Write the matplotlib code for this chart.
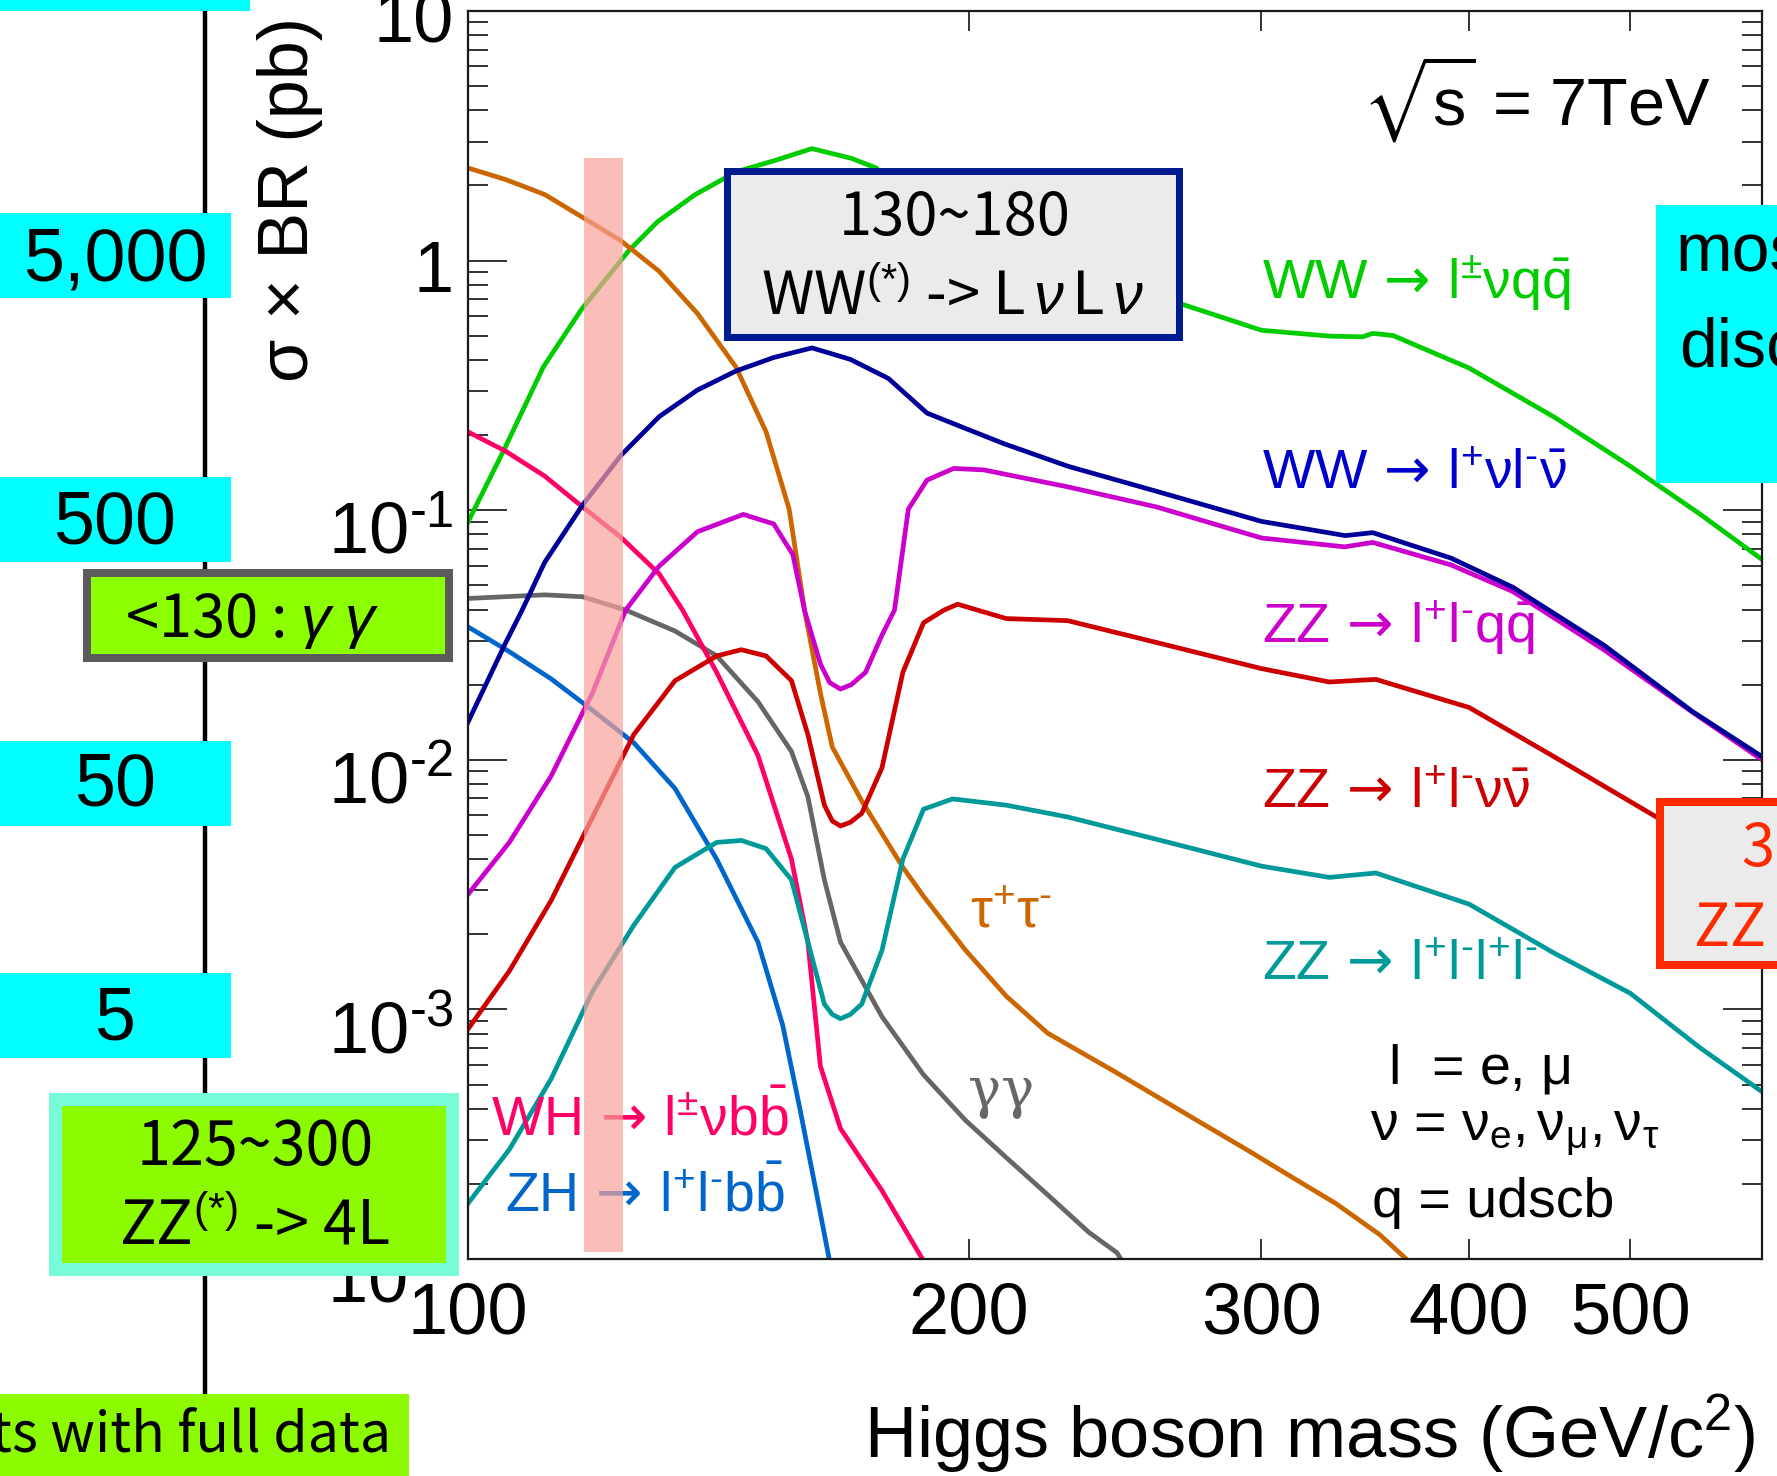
"""Higgs sigma x BR versus mass at sqrt(s) = 7 TeV, with search-channel call-outs."""

import matplotlib

matplotlib.use("Agg")
import matplotlib.pyplot as plt
from matplotlib import transforms
from matplotlib.lines import Line2D
from matplotlib.patches import Rectangle
from matplotlib.ticker import FixedLocator, LogLocator, NullFormatter, NullLocator

W, H = 1777, 1476  # output size in pixels at dpi 100

# Higgs mass (GeV/c^2) and sigma x BR (pb)
WW_QQ_MASS = [100, 105, 111, 117, 125, 130, 137, 145, 153, 161, 170, 176, 180, 190, 200, 210, 230, 250,
              268, 300, 330, 345, 350, 360, 400, 450, 500, 550, 600]
WW_QQ_XS = [0.0897, 0.172, 0.375, 0.637, 1.10, 1.43, 1.84, 2.27, 2.52, 2.81, 2.57, 2.35, 2.0, 1.51, 1.29,
            1.12, 0.891, 0.759, 0.673, 0.526, 0.498, 0.495, 0.511, 0.501, 0.371, 0.236, 0.150, 0.0970, 0.0635]

WW_LL_MASS = [100, 105.3, 107.7, 111.2, 117.2, 123.6, 130.3, 137.4, 144.9, 152.7, 161, 169.8, 179, 188.8,
              199, 209.9, 229.5, 259.5, 300, 337, 350, 390, 425, 482, 545, 600]
WW_LL_XS = [0.01416, 0.02924, 0.03936, 0.0618, 0.105, 0.166, 0.237, 0.303, 0.361, 0.409, 0.447, 0.402,
            0.337, 0.245, 0.213, 0.185, 0.150, 0.119, 0.0902, 0.0791, 0.0813, 0.0643, 0.0491, 0.0288,
            0.0156, 0.0103]

ZZ_QQ_MASS = [100, 105.9, 112.2, 118.8, 124.4, 130.3, 137.4, 146.4, 152.7, 156.8, 159.4, 162.9, 165,
              167.5, 170, 173.4, 177.4, 180.5, 184, 188.8, 195.9, 204.3, 215.4, 229.5, 259.5, 300, 336.6,
              350, 390, 425, 482, 545, 600]
ZZ_QQ_XS = [0.00289, 0.00467, 0.00861, 0.0185, 0.0398, 0.0597, 0.0820, 0.0962, 0.0881, 0.0664, 0.0394,
            0.0242, 0.0204, 0.0192, 0.0200, 0.0224, 0.0316, 0.0398, 0.101, 0.132, 0.147, 0.145, 0.135,
            0.124, 0.103, 0.0774, 0.0713, 0.0743, 0.0604, 0.0472, 0.0276, 0.0155, 0.0100]

ZZ_NUNU_MASS = [100, 105.9, 112.2, 118.8, 125.8, 133.2, 141.1, 146, 151.1, 156.5, 160.1, 163.8, 165.6,
                167.5, 169.8, 172.5, 177.4, 182.6, 187.9, 193.3, 197, 210.7, 229.4, 259.5, 300, 329.6,
                351.5, 400, 450, 526.5, 600]
ZZ_NUNU_XS = [0.000834, 0.001426, 0.00273, 0.00587, 0.01262, 0.02075, 0.02606, 0.02761, 0.02606, 0.02075,
              0.01262, 0.00658, 0.00569, 0.00543, 0.00562, 0.00610, 0.00929, 0.0224, 0.0354, 0.0398,
              0.0420, 0.0368, 0.0361, 0.0295, 0.0232, 0.0205, 0.0210, 0.0162, 0.01028, 0.00555, 0.00316]

ZZ_4L_MASS = [100, 105.9, 112.2, 118.8, 125.8, 133.2, 141.1, 146, 151.1, 156.5, 160.1, 163.8, 165.6,
              167.5, 169.8, 172.5, 177.4, 182.6, 187.9, 195.6, 210.7, 229.4, 259.5, 300, 329.6, 351.5,
              400, 450, 500, 550, 600]
ZZ_4L_XS = [0.000167, 0.000275, 0.000527, 0.001178, 0.002173, 0.003707, 0.004667, 0.004753, 0.004406,
            0.003304, 0.001862, 0.001050, 0.000955, 0.000918, 0.000955, 0.001050, 0.001726, 0.0040,
            0.00634, 0.00697, 0.00658, 0.00590, 0.00480, 0.00375, 0.00338, 0.00352, 0.00264, 0.00168,
            0.00116, 0.000706, 0.000468]

TAUTAU_MASS = [100, 105.4, 111.2, 117.2, 123.6, 130.3, 137.4, 144.9, 151.1, 156, 159.4, 162.9, 165.6,
               172.5, 182.6, 187.9, 199.1, 210.7, 223.1, 245, 276, 294, 312.5, 332.5, 353.5, 368]
TAUTAU_XS = [2.35, 2.11, 1.84, 1.49, 1.20, 0.906, 0.614, 0.375, 0.206, 0.101, 0.0394, 0.0185, 0.01125,
             0.00684, 0.00371, 0.00284, 0.00173, 0.00113, 0.000804, 0.000562, 0.000351, 0.000274,
             0.000214, 0.000167, 0.000125, 0.0000977]

GAMGAM_MASS = [100, 111.2, 117.2, 124.4, 133.2, 141.1, 149.4, 156.5, 160.1, 163.8, 167.5, 177.4, 187.9,
               199.1, 210.7, 223.1, 236.2, 245.6, 248]
GAMGAM_XS = [0.0443, 0.0458, 0.0450, 0.0398, 0.0328, 0.0261, 0.0171, 0.0108, 0.00711, 0.00330, 0.00186,
             0.000935, 0.000547, 0.000360, 0.000255, 0.000181, 0.000128, 0.000106, 0.0000955]

WH_MASS = [100, 105.4, 111.2, 117.2, 123.6, 130.3, 134.6, 141.1, 149.4, 156.5, 160.1, 162.9, 167.5, 177.4, 188]
WH_XS = [0.206, 0.172, 0.137, 0.103, 0.0778, 0.0556, 0.0398, 0.0224, 0.01042, 0.0040, 0.00186, 0.000592,
         0.000333, 0.000188, 0.0000977]

ZH_MASS = [100, 105.9, 112.2, 118.8, 125.8, 133.2, 141.1, 149.4, 154.6, 158.3, 161.9, 165]
ZH_XS = [0.0341, 0.0271, 0.0211, 0.0158, 0.0117, 0.00767, 0.0040, 0.00186, 0.000867, 0.000403, 0.000188,
         0.0000977]

BAND_MASS = (117.5, 124.0)
X_TICKS = [100, 200, 300, 400, 500]
Y_TICKS = [1e-4, 1e-3, 1e-2, 1e-1, 1, 10]
Y_TICK_TEXT = ["10$^{‐4}$", "10$^{‐3}$", "10$^{‐2}$", "10$^{‐1}$", "1", "10"]

COLORS = {
    "ww_qq": "#00cc00", "ww_ll": "#000099", "zz_qq": "#cc00cc", "zz_nunu": "#cc0000",
    "zz_4l": "#009999", "tautau": "#cc6600", "gamgam": "#666666", "wh": "#ff0066", "zh": "#0066cc",
}
CJK = ["Noto Sans CJK JP", "DejaVu Sans"]
ARROW = r"$\,\mathsf{\rightarrow}\,$"

plt.rcParams.update({
    "font.family": ["Liberation Sans", "DejaVu Sans"],
    "mathtext.fontset": "custom",
    "mathtext.rm": "Liberation Sans",
    "mathtext.it": "Liberation Sans:italic",
    "mathtext.bf": "Liberation Sans:bold",
    "mathtext.sf": "DejaVu Sans",
    "mathtext.fallback": "stixsans",
})


def fx(px):
    return px / W


def fy(py):
    return 1 - py / H


fig = plt.figure(figsize=(W / 100, H / 100), dpi=100, facecolor="white")
ax = fig.add_axes([fx(468), fy(1259), (1762 - 468) / W, (1259 - 11) / H])

curves = [
    (WW_QQ_MASS, WW_QQ_XS, COLORS["ww_qq"]),
    (TAUTAU_MASS, TAUTAU_XS, COLORS["tautau"]),
    (GAMGAM_MASS, GAMGAM_XS, COLORS["gamgam"]),
    (WH_MASS, WH_XS, COLORS["wh"]),
    (ZH_MASS, ZH_XS, COLORS["zh"]),
    (ZZ_4L_MASS, ZZ_4L_XS, COLORS["zz_4l"]),
    (ZZ_NUNU_MASS, ZZ_NUNU_XS, COLORS["zz_nunu"]),
    (ZZ_QQ_MASS, ZZ_QQ_XS, COLORS["zz_qq"]),
    (WW_LL_MASS, WW_LL_XS, COLORS["ww_ll"]),
]
for mass, xs, color in curves:
    ax.plot(mass, xs, color=color, lw=3.4, solid_joinstyle="round", zorder=2)

ax.axvspan(*BAND_MASS, ymin=0.0056, ymax=0.8826, color="#f9a199", alpha=0.7, lw=0, zorder=4)

ax.set_xscale("log")
ax.set_yscale("log")
ax.set_xlim(100, 600)
ax.set_ylim(1e-4, 10)
ax.xaxis.set_major_locator(FixedLocator(X_TICKS))
ax.xaxis.set_minor_locator(NullLocator())
ax.set_xticklabels([str(t) for t in X_TICKS])
ax.xaxis.set_minor_formatter(NullFormatter())
ax.yaxis.set_major_locator(FixedLocator(Y_TICKS))
ax.yaxis.set_minor_locator(LogLocator(base=10, subs=range(2, 10), numticks=20))
ax.yaxis.set_major_formatter(NullFormatter())
ax.yaxis.set_minor_formatter(NullFormatter())
for spine in ax.spines.values():
    spine.set_linewidth(1.6)
    spine.set_color("#1a1a1a")
ax.tick_params(which="both", direction="in", top=True, right=True, width=1.4, color="#333333")
ax.tick_params(axis="y", which="major", length=28, labelleft=False)
ax.tick_params(axis="y", which="minor", length=14.4)
ax.tick_params(axis="x", which="major", length=14.4, labelsize=52, pad=16)

# y tick labels, ROOT style: baseline sits below the tick
ylab_trans = transforms.blended_transform_factory(ax.transAxes, ax.transData)
for value, text in zip(Y_TICKS, Y_TICK_TEXT):
    drop = 43 if "$" in text else 31
    ax.text(0, value, text, fontsize=52, ha="right", va="baseline",
            transform=transforms.offset_copy(ylab_trans, fig=fig, x=-14.5, y=-drop, units="dots"))

fig.text(fx(308), fy(17), "σ × BR (pb)", fontsize=50.5, rotation=90, rotation_mode="anchor",
         ha="right", va="baseline")
fig.text(fx(1756), fy(1457), "Higgs boson mass (GeV/c$^{2}$)", fontsize=52, ha="right", va="baseline")


def plot_label(x, y, s, color, size=40, family=None):
    ax.text(fx(x), fy(y), s, color=color, fontsize=size, ha="left", va="baseline",
            transform=fig.transFigure, zorder=3, family=family or ["Liberation Sans", "DejaVu Sans"])


plot_label(1362, 125, r"$\sqrt{\mathrm{s}}$ = 7TeV", "black", 48)
plot_label(1262, 299, r"WW" + ARROW + r"$\mathrm{l^{\pm}\nu q\bar{q}}$", COLORS["ww_qq"])
plot_label(1262, 489, r"WW" + ARROW + r"$\mathrm{l^{+}\nu l^{‐}\bar{\nu}}$", "#0000cc")
plot_label(1262, 643, r"ZZ" + ARROW + r"$\mathrm{l^{+}l^{‐}q\bar{q}}$", COLORS["zz_qq"])
plot_label(1262, 808, r"ZZ" + ARROW + r"$\mathrm{l^{+}l^{‐}\nu\bar{\nu}}$", COLORS["zz_nunu"])
plot_label(1262, 980, r"ZZ" + ARROW + r"$\mathrm{l^{+}l^{‐}l^{+}l^{‐}}$", COLORS["zz_4l"])
plot_label(970, 927, r"$\mathrm{\tau^{+}\tau^{‐}}$", COLORS["tautau"])
plot_label(968, 1107, "γγ", COLORS["gamgam"], family=["DejaVu Serif"])
plot_label(491, 1136, r"WH" + ARROW + r"$\mathrm{l^{\pm}\nu b\bar{b}}$", COLORS["wh"])
plot_label(505, 1211, r"ZH" + ARROW + r"$\mathrm{l^{+}l^{‐}b\bar{b}}$", COLORS["zh"])
plot_label(1388, 1083, r"l  = e, $\mathrm{\mu}$", "black")
plot_label(1370, 1140, r"$\mathrm{\nu}$ = $\mathrm{\nu_{e},\nu_{\mu},\nu_{\tau}}$", "black")
plot_label(1372, 1217, "q = udscb", "black")


# call-out boxes and the mass scale drawn on top of the chart
def box(x0, y0, x1, y1, face, edge="none", lw_px=0.0, z=5):
    fig.add_artist(Rectangle((fx(x0), fy(y1)), (x1 - x0) / W, (y1 - y0) / H, transform=fig.transFigure,
                             facecolor=face, edgecolor=edge, linewidth=lw_px * 0.72, zorder=z))


def note(x, y, s, size, ha="center", color="black", family=None):
    fig.text(fx(x), fy(y), s, fontsize=size, ha=ha, va="baseline", color=color, zorder=6,
             family=family or ["Liberation Sans", "DejaVu Sans"])


fig.add_artist(Line2D([fx(205), fx(205)], [0, 1], transform=fig.transFigure, color="black", lw=3.2, zorder=1))

box(0, 0, 250, 11, "#00ffff")
for y0, label, base in [(213, "5,000", 280), (477, "500", 544), (741, "50", 806), (973, "5", 1039)]:
    box(0, y0, 231, y0 + 85, "#00ffff")
    note(115, base, label, 53)

box(87, 573, 449, 658, "#8cff00", "#5b5b5b", 8)
note(252, 637, r"<130 : $\gamma\;\gamma$", 43, family=CJK)

box(54.5, 1098.5, 451.5, 1268.5, "#8cfa00", "#78fcd8", 13)
note(255, 1165, "125~300", 44, family=CJK)
note(254, 1244, r"ZZ$^{(*)}$ -> 4L", 44, family=CJK)

box(0, 1394, 409, 1476, "#8cfa00")
note(391, 1452, "results with full data", 40, ha="right", family=CJK)

box(726.5, 171.5, 1178.5, 336.5, "#ebebeb", "#001a8f", 7)
note(955, 235, "130~180", 43, family=CJK)
note(952, 315, r"WW$^{(*)}$ -> L$\,\nu\,$L$\,\nu$", 43, family=CJK)

box(1656, 205, 1800, 483, "#00ffff")
note(1675, 272, "most", 49, ha="left")
note(1679, 367, "discovery", 49, ha="left")

box(1660, 802, 2100, 965, "#ebebeb", "#ff2a00", 8)
note(1741, 866, "300~600", 43, ha="left", color="#ff2a00", family=CJK)
note(1693, 946, r"ZZ -> LL$\nu\nu$", 43, ha="left", color="#ff2a00", family=CJK)

fig.savefig("out.png", dpi=100, facecolor="white")
